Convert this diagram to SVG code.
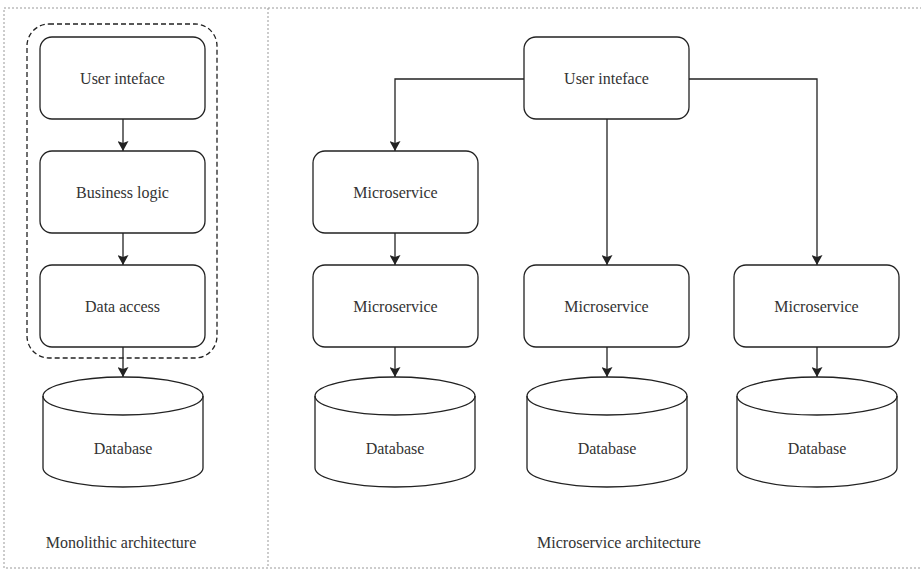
<svg xmlns="http://www.w3.org/2000/svg" width="921" height="573" viewBox="0 0 921 573">
  <style>
    .frame { fill: none; stroke: #999; stroke-width: 1; stroke-dasharray: 2 2; }
    .group { fill: none; stroke: #222; stroke-width: 1.3; stroke-dasharray: 5 3; }
    .box { fill: #fff; stroke: #222; stroke-width: 1.3; }
    .edge { fill: none; stroke: #222; stroke-width: 1.3; }
    text { font-family: 'Liberation Serif', 'DejaVu Serif', serif; font-size: 16px; fill: #333; text-anchor: middle; dominant-baseline: central; }
  </style>
  <defs>
    <marker id="arrow" viewBox="0 0 10 10" refX="10" refY="5" markerWidth="10" markerHeight="11" markerUnits="userSpaceOnUse" orient="auto" preserveAspectRatio="none">
      <path d="M0,0 L10,5 L0,10 L2,5 Z" fill="#222"/>
    </marker>
    <!-- database cylinder, 160 x 110 -->
    <g id="cyl">
      <path class="box" d="M0,19 A80,19 0 0 1 160,19 L160,91 A80,19 0 0 1 0,91 Z"/>
      <path class="edge" d="M0,19 A80,19 0 0 0 160,19"/>
    </g>
  </defs>

  <rect width="921" height="573" fill="#fff"/>

  <!-- outer frames -->
  <g id="frames">
    <rect class="frame" x="4" y="8" width="1000" height="560"/>
    <line class="frame" x1="268" y1="8" x2="268" y2="568"/>
  </g>

  <!-- monolithic container -->
  <rect id="mono-group" class="group" x="27" y="24" width="190" height="334" rx="22"/>

  <!-- connectors -->
  <g id="connectors">
    <line class="edge" x1="123" y1="119" x2="123" y2="151" marker-end="url(#arrow)"/>
    <line class="edge" x1="123" y1="233" x2="123" y2="265" marker-end="url(#arrow)"/>
    <line class="edge" x1="123" y1="347" x2="123" y2="377" marker-end="url(#arrow)"/>

    <polyline class="edge" points="524,79 395,79 395,151" marker-end="url(#arrow)"/>
    <line class="edge" x1="607" y1="119" x2="607" y2="265" marker-end="url(#arrow)"/>
    <polyline class="edge" points="689,79 817,79 817,265" marker-end="url(#arrow)"/>

    <line class="edge" x1="395" y1="233" x2="395" y2="265" marker-end="url(#arrow)"/>
    <line class="edge" x1="395" y1="347" x2="395" y2="377" marker-end="url(#arrow)"/>
    <line class="edge" x1="607" y1="347" x2="607" y2="377" marker-end="url(#arrow)"/>
    <line class="edge" x1="817" y1="347" x2="817" y2="377" marker-end="url(#arrow)"/>
  </g>

  <!-- monolithic nodes -->
  <g id="mono-ui">
    <rect class="box" x="40" y="37" width="165" height="82" rx="12"/>
    <text x="122.5" y="78">User inteface</text>
  </g>
  <g id="mono-logic">
    <rect class="box" x="40" y="151" width="165" height="82" rx="12"/>
    <text x="122.5" y="192">Business logic</text>
  </g>
  <g id="mono-data">
    <rect class="box" x="40" y="265" width="165" height="82" rx="12"/>
    <text x="122.5" y="306">Data access</text>
  </g>
  <g id="mono-db">
    <use href="#cyl" x="43" y="377"/>
    <text x="123" y="448">Database</text>
  </g>
  <text id="mono-label" x="121" y="542">Monolithic architecture</text>

  <!-- microservice nodes -->
  <g id="ms-ui">
    <rect class="box" x="524" y="37" width="165" height="82" rx="12"/>
    <text x="606.5" y="78">User inteface</text>
  </g>
  <g id="ms-a1">
    <rect class="box" x="313" y="151" width="165" height="82" rx="12"/>
    <text x="395.5" y="192">Microservice</text>
  </g>
  <g id="ms-a2">
    <rect class="box" x="313" y="265" width="165" height="82" rx="12"/>
    <text x="395.5" y="306">Microservice</text>
  </g>
  <g id="ms-b">
    <rect class="box" x="524" y="265" width="165" height="82" rx="12"/>
    <text x="606.5" y="306">Microservice</text>
  </g>
  <g id="ms-c">
    <rect class="box" x="734" y="265" width="165" height="82" rx="12"/>
    <text x="816.5" y="306">Microservice</text>
  </g>
  <g id="db-a">
    <use href="#cyl" x="315" y="377"/>
    <text x="395" y="448">Database</text>
  </g>
  <g id="db-b">
    <use href="#cyl" x="527" y="377"/>
    <text x="607" y="448">Database</text>
  </g>
  <g id="db-c">
    <use href="#cyl" x="737" y="377"/>
    <text x="817" y="448">Database</text>
  </g>
  <text id="ms-label" x="619" y="542">Microservice architecture</text>
</svg>
